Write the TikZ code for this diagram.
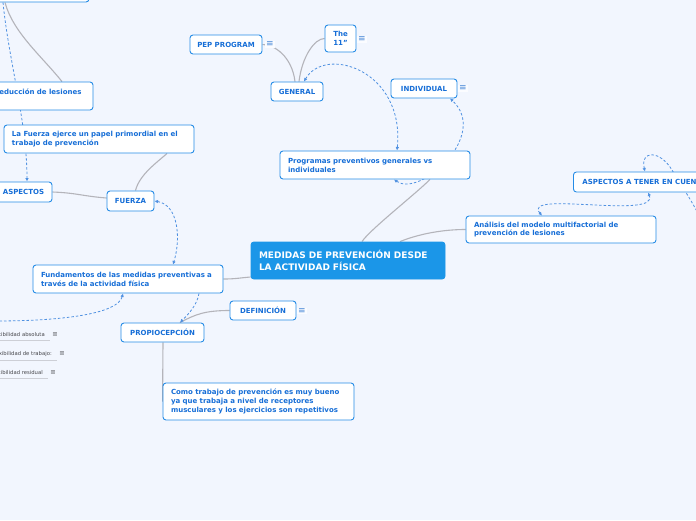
\documentclass[tikz,border=0pt]{standalone}
\usepackage{fontspec}
\setmainfont{DejaVu Sans}
\usetikzlibrary{arrows.meta}
\pgfdeclarelayer{back}
\pgfdeclarelayer{bg}
\pgfsetlayers{back,bg,main}
\hyphenpenalty=10000
\exhyphenpenalty=10000
\definecolor{bgc}{RGB}{242,246,254}
\definecolor{bd}{RGB}{38,140,230}
\definecolor{tx}{RGB}{22,110,215}
\definecolor{mfill}{RGB}{27,150,232}
\definecolor{gline}{RGB}{180,180,186}
\definecolor{dline}{RGB}{80,145,225}
\definecolor{icon}{RGB}{70,135,215}
\definecolor{small}{RGB}{70,70,75}
\definecolor{uline}{RGB}{205,207,214}
\tikzset{
  box/.style={draw=bd, fill=white, rounded corners=3pt, line width=0.9pt, text=tx,
    font=\bfseries\fontsize{7}{8.8}\selectfont, inner sep=0pt, align=left},
  mainbox/.style={box, fill=mfill, draw=mfill, text=white, font=\bfseries\fontsize{9}{11.5}\selectfont},
  gl/.style={draw=gline, line width=1.1pt},
  rel/.style={draw=dline, line width=0.8pt, dash pattern=on 2.5pt off 2pt},
  tipa/.tip={Latex[length=3.5pt,width=3.5pt]},
  menuicon/.style={text=icon, fill=white!70!bgc, inner sep=0.8pt, font=\fontsize{9}{9}\selectfont},
  smallicon/.style={text=small, inner sep=0.5pt, font=\fontsize{6.5}{6.5}\selectfont},
  smalltext/.style={text=small, font=\fontsize{5.3}{6}\selectfont, inner sep=0pt, anchor=east},
  ul/.style={draw=uline, line width=0.9pt}
}
\begin{document}
\begin{tikzpicture}[x=1pt,y=-1pt]
\begin{pgfonlayer}{back}
\fill[bgc] (0,0) rectangle (696,520);
\end{pgfonlayer}
\useasboundingbox (0,0) rectangle (696,520);

% nodes
\node[box, minimum width=109, minimum height=28] (top) at (34.5,-12) {};
\node[box, minimum width=106, minimum height=28, text width=92] (red) at (40,96) {Reducción de lesiones\\ \mbox{}};
\node[box, minimum width=190, minimum height=28, text width=174] (lafuerza) at (99,139) {La Fuerza ejerce un papel primordial en el trabajo de prevención};
\node[box, minimum width=57, minimum height=20] (aspectos) at (23.5,192) {ASPECTOS};
\node[box, minimum width=47, minimum height=20] (fuerza) at (130.5,201) {FUERZA};
\node[box, minimum width=190, minimum height=28, text width=174] (fund) at (128,279) {Fundamentos de las medidas preventivas a través de la actividad física};
\node[mainbox, minimum width=194, minimum height=37, text width=178] (medidas) at (348,260.5) {MEDIDAS DE PREVENCIÓN DESDE LA ACTIVIDAD FÍSICA};
\node[box, minimum width=190, minimum height=28, text width=174] (programas) at (375,165) {Programas preventivos generales vs individuales};
\node[box, minimum width=52, minimum height=19] (general) at (297,91.5) {GENERAL};
\node[box, minimum width=72, minimum height=19] (pep) at (226,44.5) {PEP PROGRAM};
\node[box, minimum width=31, minimum height=27, align=center] (the11) at (340.5,38.5) {The\\11"};
\node[box, minimum width=66, minimum height=19] (individual) at (424,88.5) {INDIVIDUAL};
\node[box, minimum height=20, inner xsep=9pt, anchor=west] (aspectos2) at (573,182) {ASPECTOS A TENER EN CUENTA};
\node[box, minimum width=190, minimum height=27, text width=174] (analisis) at (561,229.5) {Análisis del modelo multifactorial de prevención de lesiones};
\node[box, minimum width=83, minimum height=19] (propio) at (162.5,332.5) {PROPIOCEPCIÓN};
\node[box, minimum width=66, minimum height=19] (definicion) at (263,310.5) {DEFINICIÓN};
\node[box, minimum width=191, minimum height=37, text width=175] (como) at (258.5,401.5) {Como trabajo de prevención es muy bueno ya que trabaja a nivel de receptores musculares y los ejercicios son repetitivos};

% menu icons
\node[menuicon] (ipep) at (270,44.5) {≡};
\node[menuicon] (ithe) at (362,39.5) {≡};
\node[menuicon] (iind) at (463,88.5) {≡};
\node[menuicon] (idef) at (302,311) {≡};

% small left items
\node[smalltext] (flex1) at (45,335) {Flexibilidad absoluta};
\node[smalltext] (flex2) at (52,354) {Flexibilidad de trabajo:};
\node[smalltext] (flex3) at (43,373) {Flexibilidad residual};
\node[smallicon] (if1) at (55,335) {≡};
\node[smallicon] (if2) at (62,354) {≡};
\node[smallicon] (if3) at (53,373) {≡};

\coordinate (offr) at (705,228);
\coordinate (offl) at (-5,321);

\begin{pgfonlayer}{bg}
% underlines
\draw[ul] ([xshift=-10pt,yshift=-3.5pt]flex1.south west) -- ([xshift=5pt,yshift=-3.5pt]flex1.south east);
\draw[ul] ([xshift=-10pt,yshift=-3.5pt]flex2.south west) -- ([xshift=5pt,yshift=-3.5pt]flex2.south east);
\draw[ul] ([xshift=-10pt,yshift=-3.5pt]flex3.south west) -- ([xshift=5pt,yshift=-3.5pt]flex3.south east);

% gray tree links
\draw[gl] ([xshift=-29.5pt]top.south) .. controls +(8,30) and +(-20,-25) .. ([xshift=22pt]red.north);
\draw[gl] (aspectos.east) .. controls +(25,1) and +(-25,-2) .. ([yshift=3pt]fuerza.west);
\draw[gl] ([xshift=5pt]fuerza.north) .. controls +(4,-16) and +(-10,9) .. ([xshift=68pt]lafuerza.south);
\draw[gl] (fund.east) .. controls +(12,0) and +(-12,1) .. ([yshift=-16.5pt]medidas.west);
\draw[gl] ([xshift=14pt]medidas.north) .. controls +(8,-12) and +(-15,15) .. ([xshift=55pt]programas.south);
\draw[gl] ([xshift=52pt]medidas.north) .. controls +(20,-8) and +(-22,0) .. (analisis.west);
\draw[gl] ([xshift=-2pt]general.north) .. controls +(-3,-25) and +(12,0) .. (pep.east);
\draw[gl] ([xshift=2pt]general.north) .. controls +(3,-25) and +(-10,0) .. (the11.west);
\draw[gl] (definicion.west) .. controls +(-25,0) and +(15,-8) .. ([xshift=17.5pt]propio.north);
\draw[gl] ([xshift=0.5pt]propio.south) -- (como.west);

% dashed relations
\draw[rel, -{tipa}] ([xshift=-31.5pt]top.south) .. controls +(6,60) and +(0,-60) .. ([xshift=3.5pt]aspectos.north);
\draw[rel, {tipa}-{tipa}] (fuerza.east) .. controls +(24,4) and +(8,-26) .. ([xshift=45pt]fund.north);
\draw[rel, {tipa}-{tipa}] ([xshift=7pt]general.north) .. controls (325,45) and (405,70) .. ([xshift=22pt]programas.north);
\draw[rel, {tipa}-{tipa}] ([xshift=19pt]programas.south) .. controls (420,198) and (490,135) .. ([xshift=26pt]individual.south);
\draw[rel, {tipa}-{tipa}] ([xshift=-19pt]analisis.north) .. controls (520,190) and (660,220) .. ([xshift=75pt]aspectos2.south west);
\draw[rel, {tipa}-] ([xshift=72pt]aspectos2.north west) .. controls (640,150) and (660,150) .. (672,170) .. controls (684,190) and (695,205) .. (offr);
\draw[rel, -{tipa}] (offl) .. controls +(70,0) and +(-5,20) .. ([xshift=-5pt]fund.south);
\draw[rel, -{tipa}] ([xshift=71pt]fund.south) .. controls +(-2,12) and +(8,-8) .. ([xshift=17.5pt]propio.north);
\end{pgfonlayer}
\end{tikzpicture}
\end{document}
